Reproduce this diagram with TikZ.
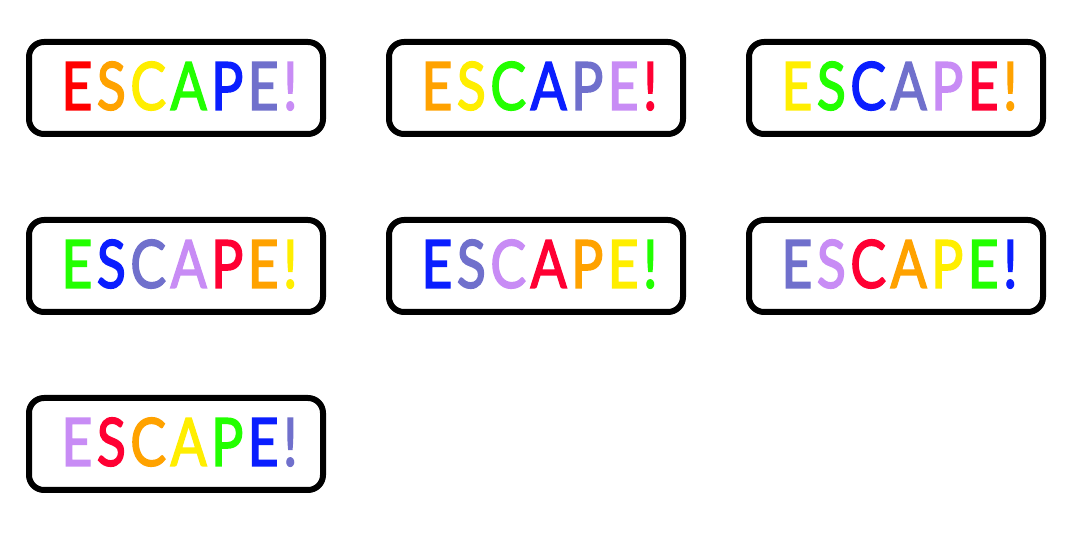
\documentclass[tikz,border=0pt]{standalone}
\usepackage{fontspec}
\usepackage{graphicx}
\newfontfamily\escfont{Lato}[FakeBold=2.5]
\definecolor{cRedA}{HTML}{FF0000}
\definecolor{cRed}{HTML}{FF0033}
\definecolor{cOrange}{HTML}{FFA200}
\definecolor{cYellow}{HTML}{FFEE00}
\definecolor{cGreen}{HTML}{22FF00}
\definecolor{cBlue}{HTML}{0A1EFF}
\definecolor{cSlate}{HTML}{7070CC}
\definecolor{cLav}{HTML}{C88CF5}
\newcommand{\escgap}{\kern5pt}
\newcommand{\esctext}[7]{\resizebox{236pt}{48pt}{\escfont\fontsize{60pt}{60pt}\selectfont
\textcolor{#1}{E}\escgap\textcolor{#2}{S}\escgap\textcolor{#3}{C}\escgap\textcolor{#4}{A}\escgap\textcolor{#5}{P}\escgap\textcolor{#6}{E}\escgap\textcolor{#7}{!}}}
\tikzset{
  escbox/.style={draw=black, line width=6pt, rounded corners=15pt, minimum width=294pt, minimum height=92pt, inner sep=0pt, fill=white},
  esclabel/.style={inner sep=0pt, anchor=center}
}
\begin{document}
\begin{tikzpicture}[x=1pt,y=-1pt]
\useasboundingbox (0,0) rectangle (1080,534);
\node[escbox] (b1) at (176,88) {};
\node[escbox] (b2) at (536,88) {};
\node[escbox] (b3) at (896,88) {};
\node[escbox] (b4) at (176,266) {};
\node[escbox] (b5) at (536,266) {};
\node[escbox] (b6) at (896,266) {};
\node[escbox] (b7) at (176,444) {};
\node[esclabel] (t1) at ([shift={(3.5pt,2pt)}]b1.center) {\esctext{cRedA}{cOrange}{cYellow}{cGreen}{cBlue}{cSlate}{cLav}};
\node[esclabel] (t2) at ([shift={(3.5pt,2pt)}]b2.center) {\esctext{cOrange}{cYellow}{cGreen}{cBlue}{cSlate}{cLav}{cRed}};
\node[esclabel] (t3) at ([shift={(3.5pt,2pt)}]b3.center) {\esctext{cYellow}{cGreen}{cBlue}{cSlate}{cLav}{cRed}{cOrange}};
\node[esclabel] (t4) at ([shift={(3.5pt,2pt)}]b4.center) {\esctext{cGreen}{cBlue}{cSlate}{cLav}{cRed}{cOrange}{cYellow}};
\node[esclabel] (t5) at ([shift={(3.5pt,2pt)}]b5.center) {\esctext{cBlue}{cSlate}{cLav}{cRed}{cOrange}{cYellow}{cGreen}};
\node[esclabel] (t6) at ([shift={(3.5pt,2pt)}]b6.center) {\esctext{cSlate}{cLav}{cRed}{cOrange}{cYellow}{cGreen}{cBlue}};
\node[esclabel] (t7) at ([shift={(3.5pt,2pt)}]b7.center) {\esctext{cLav}{cRed}{cOrange}{cYellow}{cGreen}{cBlue}{cSlate}};
\end{tikzpicture}
\end{document}
